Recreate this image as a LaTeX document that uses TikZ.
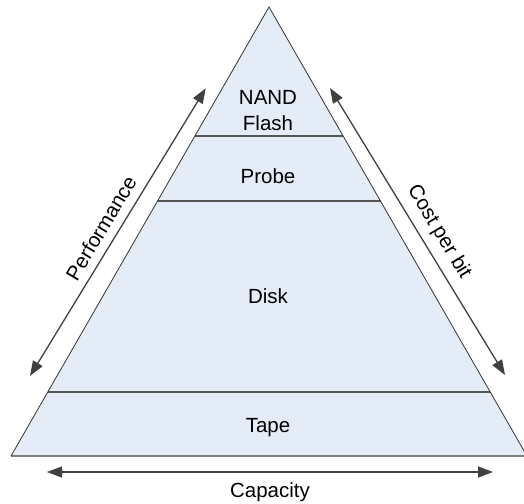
\documentclass[tikz,border=0pt]{standalone}
\usepackage{fontspec}
\setmainfont{Liberation Sans}
\usetikzlibrary{arrows.meta}
\definecolor{layerfill}{HTML}{E4ECF7}
\definecolor{edgegray}{HTML}{333333}
\definecolor{linegray}{HTML}{555555}
\definecolor{basegray}{HTML}{808080}
\definecolor{arrowgray}{HTML}{404040}
\tikzset{
  lbl/.style={font=\fontsize{20.5}{26}\selectfont, text=black, align=center, inner sep=0pt},
  axisarrow/.style={draw=arrowgray, line width=1.3pt, {Triangle[length=15pt,width=11pt]}-{Triangle[length=15pt,width=11pt]}},
  layerline/.style={draw=linegray, line width=1.1pt},
}
\begin{document}
\begin{tikzpicture}[x=1pt,y=-1pt]
\useasboundingbox (0,0) rectangle (524,503);
% triangle corners
\coordinate (A) at (269,7);
\coordinate (BL) at (11,456);
\coordinate (BR) at (527,456);
% layer boundaries
\coordinate (L1) at (194.9,136);
\coordinate (R1) at (343.1,136);
\coordinate (L2) at (157.5,201);
\coordinate (R2) at (380.5,201);
\coordinate (L3) at (47.8,392);
\coordinate (R3) at (490.2,392);
\fill[layerfill] (A) -- (BL) -- (BR) -- cycle;
\draw[layerline] (L1) -- (R1);
\draw[layerline] (L2) -- (R2);
\draw[layerline] (L3) -- (R3);
\draw[draw=basegray, line width=1.6pt] (BL) -- (BR);
\draw[draw=edgegray, line width=0.8pt] (BL) -- (A) -- (BR);
% labels
\node[lbl] (nand) at (268,111) {NAND\\Flash};
\node[lbl] (probe) at (268,176) {Probe};
\node[lbl] (disk) at (268,296) {Disk};
\node[lbl] (tape) at (268,428) {Tape};
% arrows
\coordinate (pt) at (205.7,88.3);
\coordinate (pb) at (30,376);
\coordinate (ct) at (330,88);
\coordinate (cb) at (505,375);
\coordinate (kl) at (47,472);
\coordinate (kr) at (493,472);
\draw[axisarrow] (pb) -- (pt);
\draw[axisarrow] (ct) -- (cb);
\draw[axisarrow] (kl) -- (kr);
\node[lbl, rotate=59] (perf) at (101,228) {Performance};
\node[lbl, rotate=-59] (cost) at (439,232) {Cost per bit};
\node[lbl] (cap) at (270,492) {Capacity};
\end{tikzpicture}
\end{document}
